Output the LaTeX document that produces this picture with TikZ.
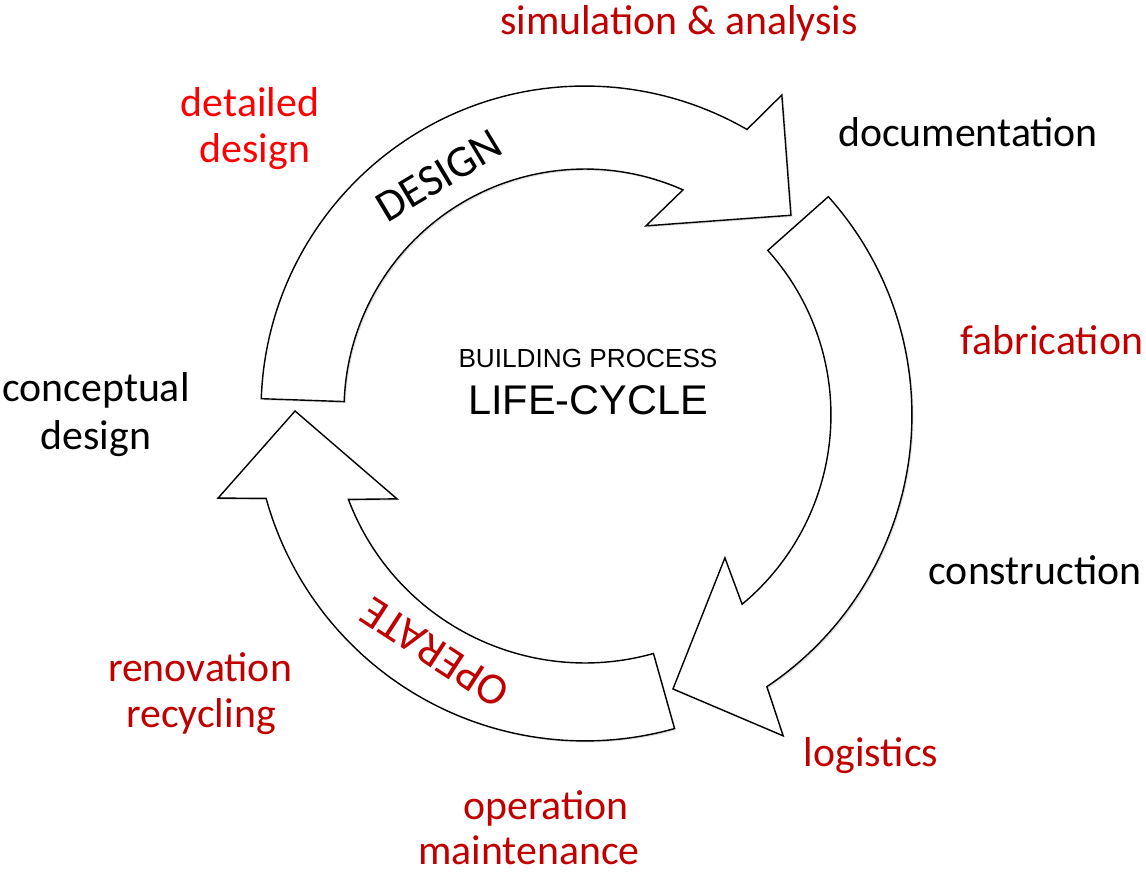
\documentclass[tikz,border=0pt]{standalone}
\usepackage{fontspec}
\setmainfont{Carlito}
\newfontfamily\arialfont{Liberation Sans}
\usetikzlibrary{calc,shadows}
\definecolor{darkred}{HTML}{C00000}
\definecolor{brightred}{HTML}{FF0000}
\begin{document}
\begin{tikzpicture}[x=0.02cm,y=0.02cm,
  arrowshape/.style={draw=black,line width=0.8pt,fill=white,line join=miter,
    drop shadow={shadow xshift=0.9pt,shadow yshift=-0.9pt,fill=black,opacity=0.12}},
  lbl/.style={anchor=base,inner sep=0pt,font=\fontsize{23.8}{28}\selectfont},
  wordart/.style={inner sep=0pt,font=\fontsize{25.5}{30}\selectfont}]
\useasboundingbox (0,0) rectangle (1146,875);
\coordinate (C1) at (585,465);
\coordinate (C2) at (585,460);
\coordinate (C3) at (585,465);
% DESIGN arrow
\draw[arrowshape] ($(C1)+(178:6.48cm)$) arc[start angle=178,end angle=60,radius=6.48cm]
  -- ($(C1)+(58:7.43cm)$) -- ($(C1)+(43.4:5.67cm)$) -- ($(C1)+(71.7:3.88cm)$)
  -- ($(C1)+(66:4.82cm)$) arc[start angle=66,end angle=178,radius=4.82cm] -- cycle;
% right arrow
\draw[arrowshape] ($(C2)+(41.9:6.54cm)$) arc[start angle=41.9,end angle=-56.2,radius=6.54cm]
  -- ($(C2)+(-58.3:7.544cm)$) -- ($(C2)+(-72.2:5.756cm)$) -- ($(C2)+(-45.6:4.0cm)$)
  -- ($(C2)+(-50.3:4.92cm)$) arc[start angle=-50.3,end angle=42,radius=4.92cm] -- cycle;
% OPERATE arrow
\draw[arrowshape] ($(C3)+(285.7:6.62cm)$) arc[start angle=285.7,end angle=195.5,radius=6.62cm]
  -- ($(C3)+(193.5:7.548cm)$) -- ($(C3)+(180.2:5.8cm)$) -- ($(C3)+(205.3:4.16cm)$)
  -- ($(C3)+(200.7:5.06cm)$) arc[start angle=200.7,end angle=285.7,radius=5.06cm] -- cycle;
% arrow words
\node[wordart,rotate=31] (design) at (439,699) {DESIGN};
\node[wordart,rotate=147,text=darkred] (operate) at (435,222) {OPERATE};
% centre
\node[anchor=base,inner sep=0pt,font=\arialfont\fontsize{14.9}{18}\selectfont] (bp) at (588,507) {BUILDING PROCESS};
\node[anchor=base,inner sep=0pt,font=\arialfont\fontsize{23.6}{28}\selectfont] (lc) at (588,460) {LIFE-CYCLE};
% labels
\node[lbl,text=darkred] (sim) at (679,840) {simulation \& analysis};
\node[lbl,text=brightred] (det1) at (250,758) {detailed};
\node[lbl,text=brightred] (det2) at (255,712) {design};
\node[lbl] (doc) at (968,728) {documentation};
\node[lbl,text=darkred] (fab) at (1052,520) {fabrication};
\node[lbl] (con1) at (96,473) {conceptual};
\node[lbl] (con2) at (96,425) {design};
\node[lbl] (constr) at (1035,290) {construction};
\node[lbl,text=darkred] (ren1) at (200,193) {renovation};
\node[lbl,text=darkred] (ren2) at (201,147) {recycling};
\node[lbl,text=darkred] (log) at (871,108) {logistics};
\node[lbl,text=darkred] (op1) at (546,55) {operation};
\node[lbl,text=darkred] (op2) at (529,10) {maintenance};
\end{tikzpicture}
\end{document}
